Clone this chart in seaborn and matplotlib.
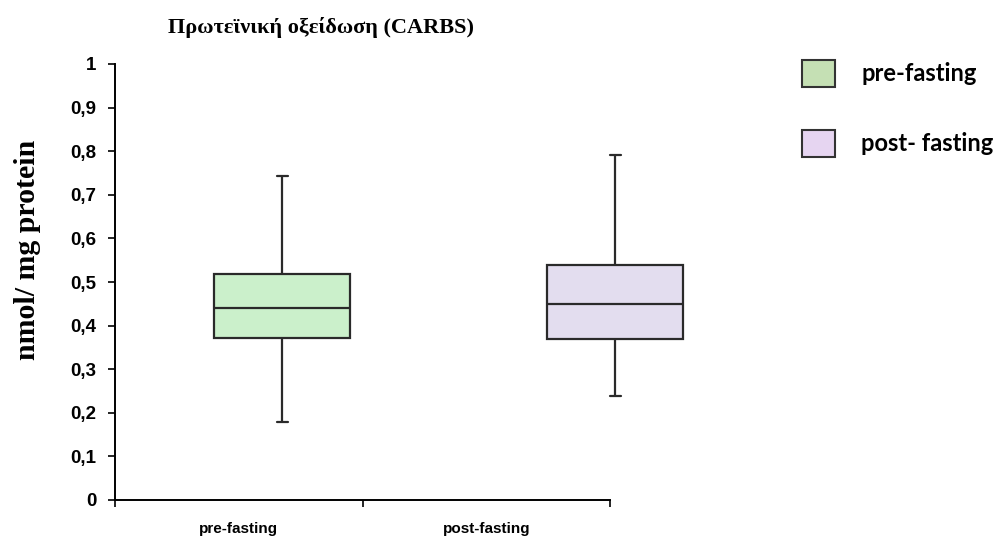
import numpy as np
import pandas as pd
import matplotlib
matplotlib.use("Agg")
import matplotlib.pyplot as plt
import seaborn as sns
from matplotlib.patches import Patch

# ---- data ----
groups = ["pre-fasting", "post-fasting"]
# five-number summaries: min, Q1, median, Q3, max
pre_fasting = [0.180, 0.371, 0.441, 0.518, 0.744]
post_fasting = [0.239, 0.370, 0.449, 0.539, 0.791]
box_colors = ["#cbf0cb", "#e3ddef"]
legend_labels = ["pre-fasting", "post- fasting"]
legend_colors = ["#c5e0b4", "#e6d5f1"]
yticks = [0, 0.1, 0.2, 0.3, 0.4, 0.5, 0.6, 0.7, 0.8, 0.9, 1]
ytick_labels = ["0", "0,1", "0,2", "0,3", "0,4", "0,5", "0,6", "0,7", "0,8", "0,9", "1"]
title = "Πρωτεϊνική οξείδωση (CARBS)"
ylabel = "nmol/ mg protein"

df = pd.DataFrame({
    "group": [groups[0]] * len(pre_fasting) + [groups[1]] * len(post_fasting),
    "value": pre_fasting + post_fasting,
})

sns.set_theme(style="ticks")
plt.rcParams["font.family"] = ["Liberation Sans", "DejaVu Sans"]
plt.rcParams["text.color"] = "black"

W, H = 998, 538
fig = plt.figure(figsize=(W / 100, H / 100), dpi=100)


def rect(l, t, r, b):
    return [l / W, 1 - b / H, (r - l) / W, (b - t) / H]


# frame axes (spines, ticks, labels)
ax = fig.add_axes(rect(115, 64, 610, 500))
ax.set_xlim(0, 2)
ax.set_ylim(0, 1)
sns.despine(ax=ax)
for s in ("left", "bottom"):
    ax.spines[s].set_linewidth(1.4)
    ax.spines[s].set_color("black")
ax.set_yticks(yticks)
ax.set_yticklabels(ytick_labels, fontsize=13.5, fontweight="bold")
ax.set_xticks([0, 1, 2])
ax.set_xticklabels(["", "", ""])
ax.set_xticks([0.5, 1.5], minor=True)
ax.set_xticklabels(groups, minor=True, fontsize=11, fontweight="bold")
ax.tick_params(axis="y", left=True, direction="out", length=5, width=1.2,
               color="black", labelcolor="black", pad=8.5)
ax.tick_params(axis="x", which="major", bottom=True, direction="out", length=5,
               width=1.2, color="black")
ax.tick_params(axis="x", which="minor", bottom=True, length=0, labelcolor="black", pad=16)

# box axes (transparent overlay)
axb = fig.add_axes(rect(115, 64, 720, 500))
sns.boxplot(data=df, x="group", y="value", hue="group", palette=box_colors,
            saturation=1, legend=False, whis=(0, 100), width=0.41, linewidth=1.6,
            linecolor="#2a2a2a", ax=axb, capwidths=0.033)
axb.set_xlim(-0.5015, 1.315)
axb.set_ylim(0, 1)
axb.axis("off")
axb.patch.set_alpha(0)

fig.text(321.5 / W, 1 - 27 / H, title, ha="center", va="center", color="black",
         family="Liberation Serif", fontweight="bold", fontsize=16)
fig.text(28 / W, 1 - 250 / H, ylabel, ha="center", va="center", rotation=90,
         color="black", family="Liberation Serif", fontweight="bold", fontsize=21.5)

handles = [Patch(facecolor=c, edgecolor="#333333", linewidth=1.5) for c in legend_colors]
fig.legend(handles, legend_labels, loc="upper left",
           bbox_to_anchor=(802 / W, 1 - 60 / H), frameon=False,
           prop={"family": "Lato", "weight": "bold", "size": 17},
           labelcolor="black",
           handlelength=1.4, handleheight=1.4, handletextpad=1.1,
           labelspacing=1.8, borderpad=0, borderaxespad=0)

fig.savefig("out.png", dpi=100)
